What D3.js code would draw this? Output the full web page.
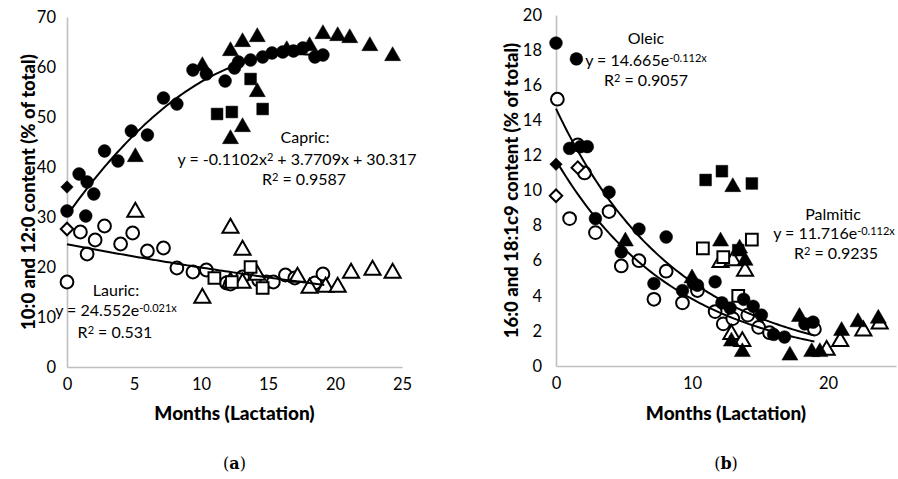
<!DOCTYPE html>
<html>
<head>
<meta charset="utf-8">
<script src="https://cdn.jsdelivr.net/npm/d3@7"></script>
<style>
  body { margin: 0; background: #fff; }
  text { font-family: Lato, "Open Sans", sans-serif; fill: #000; }
  .axis path { stroke: #bfbfbf; stroke-width: 1.6; }
  .axis text { font-size: 16.5px; font-family: Lato, "Open Sans", sans-serif; }
</style>
</head>
<body>
<svg id="chart" width="898" height="479"></svg>
<script>
// ---- panel (a): capric (filled) and lauric (open), [month, % of total]
const capricCircles = [[0, 31.2], [0.9, 38.6], [1.5, 37], [2, 34.6], [1.4, 30.2], [2.8, 43.2], [3.8, 41.2],
  [4.8, 47.2], [6, 46.4], [7.2, 53.8], [8.2, 52.6], [9.4, 59.4], [10.4, 58.6], [11.8, 57.2], [12.5, 59.8],
  [12.8, 61], [13.7, 61.4], [14.6, 62], [15.3, 62.8], [16.1, 63], [16.9, 63.2], [17.6, 63.8], [18.5, 62], [19.1, 62.4]]
const capricTriangles = [[5.1, 42], [10.1, 60.2], [12.2, 63.2], [13.1, 65], [14.2, 66], [16.4, 63.4], [18.1, 64.2],
  [19.1, 66.6], [20.2, 66.2], [21.1, 65.8], [22.6, 64.2], [24.3, 62.2], [14.2, 55], [13.1, 48], [12.2, 45.6]]
const capricSquares = [[11.2, 50.6], [12.3, 51], [13.7, 57.6], [14.6, 51.6]]
const capricDiamonds = [[0, 36]]

const lauricCircles = [[0, 17], [1, 27], [1.5, 22.6], [2.1, 25.4], [2.8, 28.2], [4, 24.6], [4.9, 26.8], [6, 23.2],
  [7.2, 23.8], [8.2, 19.8], [9.4, 19], [10.4, 19.4], [11.9, 16.8], [12.2, 16.6], [13.1, 18], [14.3, 17.4],
  [14.9, 17], [15.4, 17], [16.3, 18.4], [17, 17.8], [18.5, 16.8], [19.1, 18.6]]
const lauricTriangles = [[5.1, 31], [10.1, 13.8], [12.2, 27.8], [13.1, 23.4], [14.2, 18.4], [12.2, 17], [13.1, 16.8],
  [17.2, 18], [18.1, 15.8], [19.3, 16], [20.2, 16], [21.2, 18.8], [22.8, 19.4], [24.3, 18.8]]
const lauricSquares = [[11, 17.8], [12.3, 17], [13.7, 20], [14.6, 15.8]]
const lauricDiamonds = [[0, 27.6]]

// ---- panel (b): oleic (filled) and palmitic (open)
const oleicCircles = [[0, 18.4], [1.5, 17.5], [1, 12.4], [1.8, 12.5], [2.3, 12.5], [3.9, 9.9], [2.9, 8.4], [6.1, 7.8],
  [8.1, 7.35], [4.8, 6.5], [7.2, 4.7], [9.3, 4.3], [10.1, 4.7], [10.4, 4.6], [11.7, 4.8], [12.2, 3.6], [12.8, 3.3],
  [13.8, 3.8], [14.5, 3.4], [15.1, 2.9], [16, 1.8], [16.8, 1.65], [18.3, 2.4], [18.9, 2.5]]
const oleicTriangles = [[13, 10.2], [5.1, 7.1], [10, 5.0], [12.1, 7.1], [13.5, 6.7], [13.9, 6.0], [12.9, 1.4],
  [13.7, 0.8], [17.2, 0.6], [17.9, 2.8], [18.8, 0.8], [19.4, 0.8], [21, 2.0], [22.2, 2.5], [23.7, 2.7]]
const oleicSquares = [[11, 10.6], [12.2, 11.1], [14.4, 10.4], [13.4, 6.6]]
const oleicDiamonds = [[0, 11.5]]

const palmiticCircles = [[0.1, 15.2], [1.6, 12.6], [2.1, 11], [1, 8.4], [2.9, 7.6], [3.9, 8.8], [4.8, 5.7], [6.1, 6.0],
  [8.1, 5.4], [7.2, 3.8], [9.3, 3.6], [10.4, 4.3], [11.7, 3.1], [12.3, 2.4], [13, 2.7], [14.1, 2.9], [14.9, 2.2],
  [15.7, 1.9], [19, 2.1]]
const palmiticTriangles = [[12.1, 5.9], [13, 6.0], [13.9, 5.4], [12.9, 1.8], [13.7, 1.4], [19.9, 0.9], [20.9, 1.4],
  [22.6, 2.0], [23.8, 2.4]]
const palmiticSquares = [[10.8, 6.7], [14.4, 7.2], [12.3, 6.2], [13.4, 4.0]]
const palmiticDiamonds = [[0, 9.7], [1.6, 11.3]]

// trendline equations as printed on the chart
const capricFit = x => -0.1102 * x * x + 3.7709 * x + 30.317
const lauricFit = x => 24.552 * Math.exp(-0.021 * x)
const oleicFit = x => 14.665 * Math.exp(-0.112 * x)
const palmiticFit = x => 11.716 * Math.exp(-0.112 * x)

const xTicksA = [0, 5, 10, 15, 20, 25]
const yTicksA = [0, 10, 20, 30, 40, 50, 60, 70]
const xTicksB = [0, 10, 20]
const yTicksB = [0, 2, 4, 6, 8, 10, 12, 14, 16, 18, 20]

const svg = d3.select("#chart")

const shapes = {
  circle: d3.symbol().type(d3.symbolCircle).size(128),
  triangle: d3.symbol().type(d3.symbolTriangle).size(112),
  square: d3.symbol().type(d3.symbolSquare).size(138),
  diamond: d3.symbol().type(d3.symbolSquare).size(78)
}

function drawPanel(p) {
  const x = d3.scaleLinear().domain([0, 25]).range(p.xr)
  const y = d3.scaleLinear().domain(p.yd).range(p.yr)
  const g = svg.append("g")

  g.append("g")
    .attr("class", "axis")
    .attr("transform", `translate(0,${p.yr[0]})`)
    .call(d3.axisBottom(x).tickValues(p.xt).tickSize(0).tickPadding(11))
  g.append("g")
    .attr("class", "axis")
    .attr("transform", `translate(${p.xr[0]},0)`)
    .call(d3.axisLeft(y).tickValues(p.yt).tickSize(0).tickPadding(p.ypad))

  p.series.forEach(s => {
    g.append("g")
      .selectAll("path")
      .data(s.data)
      .enter()
      .append("path")
      .attr("d", shapes[s.shape])
      .attr("transform", d => `translate(${x(d[0])},${y(d[1])})` + (s.shape === "diamond" ? " rotate(45)" : ""))
      .attr("fill", s.open ? "#fff" : "#000")
      .attr("stroke", "#000")
      .attr("stroke-width", s.open ? 2 : 0.5)
  })

  p.fits.forEach(f => {
    const xs = d3.range(0, f.end + 0.001, 0.2)
    g.append("path")
      .attr("d", d3.line().x(d => x(d)).y(d => y(f.fn(d)))(xs))
      .attr("fill", "none")
      .attr("stroke", "#000")
      .attr("stroke-width", 2)
  })

  g.append("text")
    .attr("transform", `translate(${p.ytx},${(p.yr[0] + p.yr[1]) / 2}) rotate(-90)`)
    .attr("text-anchor", "middle")
    .attr("dy", "0.35em")
    .style("font-size", "18.5px")
    .style("font-weight", "900")
    .text(p.ytitle)

  g.append("text")
    .attr("x", (p.xr[0] + p.xr[1]) / 2)
    .attr("y", 413)
    .attr("text-anchor", "middle")
    .attr("dy", "0.35em")
    .style("font-size", "19px")
    .style("font-weight", "900")
    .text("Months (Lactation)")

  const cap = g.append("text")
    .attr("x", (p.xr[0] + p.xr[1]) / 2)
    .attr("y", 463)
    .attr("text-anchor", "middle")
    .attr("dy", "0.35em")
    .style("font-family", "'DejaVu Serif', 'Liberation Serif', serif")
    .style("font-size", "16px")
  cap.append("tspan").text("(")
  cap.append("tspan").style("font-weight", "bold").text(p.label)
  cap.append("tspan").text(")")
  return g
}

// text line with optional superscript parts: [[text, sup?], ...]
function note(g, cx, cy, parts) {
  const t = g.append("text")
    .attr("x", cx)
    .attr("y", cy)
    .attr("text-anchor", "middle")
    .attr("dy", "0.35em")
    .style("font-size", "16px")
  parts.forEach(([s, sup]) => {
    const ts = t.append("tspan").text(s)
    if (sup) ts.style("font-size", "11px").attr("baseline-shift", "40%")
  })
}

const gA = drawPanel({
  xr: [67, 402], yd: [0, 70], yr: [367, 17], xt: xTicksA, yt: yTicksA, ypad: 11, ytx: 29,
  ytitle: "10:0 and 12:0 content (% of total)", label: "a",
  series: [
    { data: lauricCircles, shape: "circle", open: true },
    { data: lauricTriangles, shape: "triangle", open: true },
    { data: lauricSquares, shape: "square", open: true },
    { data: lauricDiamonds, shape: "diamond", open: true },
    { data: capricCircles, shape: "circle" },
    { data: capricTriangles, shape: "triangle" },
    { data: capricSquares, shape: "square" },
    { data: capricDiamonds, shape: "diamond" }
  ],
  fits: [{ fn: capricFit, end: 19.2 }, { fn: lauricFit, end: 19.2 }]
})

note(gA, 305, 137, [["Capric:"]])
note(gA, 297, 159, [["y = -0.1102x"], ["2", true], [" + 3.7709x + 30.317"]])
note(gA, 304, 179, [["R"], ["2", true], [" = 0.9587"]])
note(gA, 116, 290, [["Lauric:"]])
note(gA, 116, 310, [["y = 24.552e"], ["-0.021x", true]])
note(gA, 115, 332, [["R"], ["2", true], [" = 0.531"]])

const gB = drawPanel({
  xr: [556, 896], yd: [0, 20], yr: [366, 15], xt: xTicksB, yt: yTicksB, ypad: 14, ytx: 512,
  ytitle: "16:0 and 18:1c9 content (% of total)", label: "b",
  series: [
    { data: palmiticCircles, shape: "circle", open: true },
    { data: palmiticTriangles, shape: "triangle", open: true },
    { data: palmiticSquares, shape: "square", open: true },
    { data: palmiticDiamonds, shape: "diamond", open: true },
    { data: oleicCircles, shape: "circle" },
    { data: oleicTriangles, shape: "triangle" },
    { data: oleicSquares, shape: "square" },
    { data: oleicDiamonds, shape: "diamond" }
  ],
  fits: [{ fn: oleicFit, end: 19 }, { fn: palmiticFit, end: 19 }]
})

note(gB, 646, 38, [["Oleic"]])
note(gB, 646, 60, [["y = 14.665e"], ["-0.112x", true]])
note(gB, 646, 80, [["R"], ["2", true], [" = 0.9057"]])
note(gB, 833, 214, [["Palmitic"]])
note(gB, 834, 233, [["y = 11.716e"], ["-0.112x", true]])
note(gB, 836, 253, [["R"], ["2", true], [" = 0.9235"]])
</script>
</body>
</html>
